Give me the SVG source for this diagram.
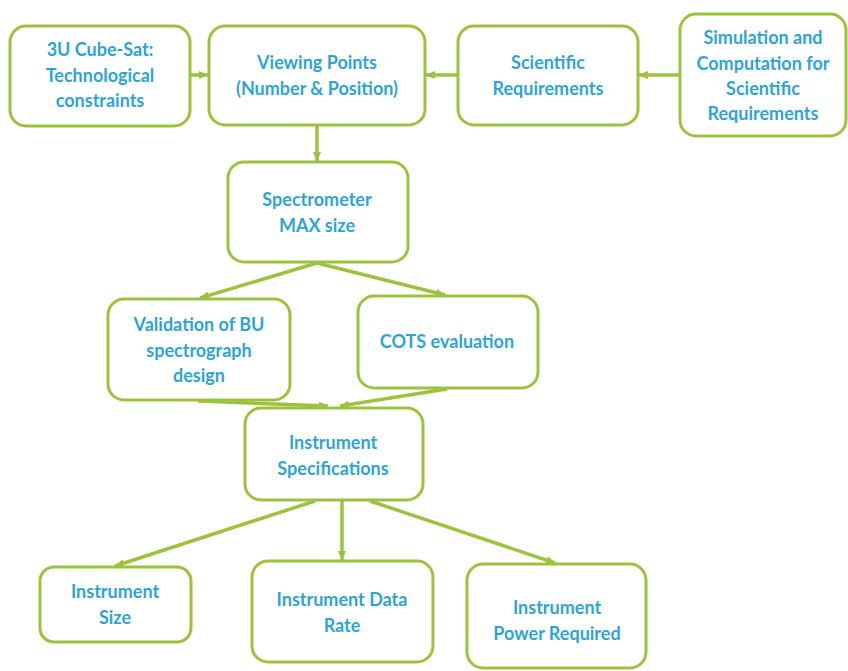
<svg xmlns="http://www.w3.org/2000/svg" width="848" height="671" viewBox="0 0 848 671">
<style>
.box{fill:#fff;stroke:#9DC23F;stroke-width:3}
.lbl{font-family:Lato,"Liberation Sans",sans-serif;font-weight:bold;font-size:18px;fill:#2FA4D4;text-anchor:middle}
.con{stroke:#9DC23F;stroke-width:3.5;fill:none;marker-end:url(#ah)}
</style>
<defs>
<marker id="ah" markerUnits="userSpaceOnUse" markerWidth="10" markerHeight="10" viewBox="0 0 10 10" refX="9" refY="5" orient="auto">
<path d="M0,1 L10,5 L0,9 Z" fill="#9DC23F"/>
</marker>
</defs>
<rect width="848" height="671" fill="#fff"/>
<g id="connectors">
<line class="con" x1="190" y1="75" x2="208" y2="75"/>
<line class="con" x1="458" y1="75" x2="426" y2="75"/>
<line class="con" x1="680" y1="75" x2="639" y2="75"/>
<line class="con" x1="317" y1="126" x2="317" y2="161"/>
<line class="con" x1="317" y1="263" x2="200" y2="298"/>
<line class="con" x1="317" y1="263" x2="445" y2="295"/>
<line class="con" x1="198" y1="401" x2="328" y2="406"/>
<line class="con" x1="447" y1="389" x2="340" y2="406"/>
<line class="con" x1="315" y1="501" x2="115" y2="566"/>
<line class="con" x1="342" y1="501" x2="342" y2="560"/>
<line class="con" x1="370" y1="501" x2="555" y2="563"/>
</g>
<g id="n-cubesat">
<rect class="box" x="10" y="26" width="180" height="100" rx="16"/>
<text class="lbl" x="100" y="56">3U Cube-Sat:</text>
<text class="lbl" x="100" y="82">Technological</text>
<text class="lbl" x="100" y="107">constraints</text>
</g>
<g id="n-viewing">
<rect class="box" x="209" y="26" width="216" height="99" rx="16"/>
<text class="lbl" x="317" y="69">Viewing Points</text>
<text class="lbl" x="317" y="95">(Number &amp; Position)</text>
</g>
<g id="n-scientific">
<rect class="box" x="458" y="26" width="180" height="99" rx="16"/>
<text class="lbl" x="548" y="69">Scientific</text>
<text class="lbl" x="548" y="95">Requirements</text>
</g>
<g id="n-simulation">
<rect class="box" x="680" y="14" width="166" height="122" rx="16"/>
<text class="lbl" x="763" y="44">Simulation and</text>
<text class="lbl" x="763" y="70">Computation for</text>
<text class="lbl" x="763" y="95">Scientific</text>
<text class="lbl" x="763" y="120">Requirements</text>
</g>
<g id="n-spectrometer">
<rect class="box" x="228" y="162" width="180" height="100" rx="16"/>
<text class="lbl" x="317" y="206">Spectrometer</text>
<text class="lbl" x="317" y="232">MAX size</text>
</g>
<g id="n-validation">
<rect class="box" x="108" y="299" width="182" height="101" rx="16"/>
<text class="lbl" x="199" y="331">Validation of BU</text>
<text class="lbl" x="199" y="357">spectrograph</text>
<text class="lbl" x="199" y="382">design</text>
</g>
<g id="n-cots">
<rect class="box" x="358" y="296" width="180" height="92" rx="16"/>
<text class="lbl" x="447" y="348">COTS evaluation</text>
</g>
<g id="n-specs">
<rect class="box" x="245" y="408" width="178" height="92" rx="16"/>
<text class="lbl" x="333" y="449">Instrument</text>
<text class="lbl" x="333" y="475">Specifications</text>
</g>
<g id="n-size">
<rect class="box" x="40" y="567" width="151" height="75" rx="14"/>
<text class="lbl" x="115" y="598">Instrument</text>
<text class="lbl" x="115" y="624">Size</text>
</g>
<g id="n-datarate">
<rect class="box" x="252" y="561" width="181" height="101" rx="16"/>
<text class="lbl" x="342" y="606">Instrument Data</text>
<text class="lbl" x="342" y="632">Rate</text>
</g>
<g id="n-power">
<rect class="box" x="467" y="564" width="179" height="104" rx="16"/>
<text class="lbl" x="557" y="614">Instrument</text>
<text class="lbl" x="557" y="640">Power Required</text>
</g>
</svg>
